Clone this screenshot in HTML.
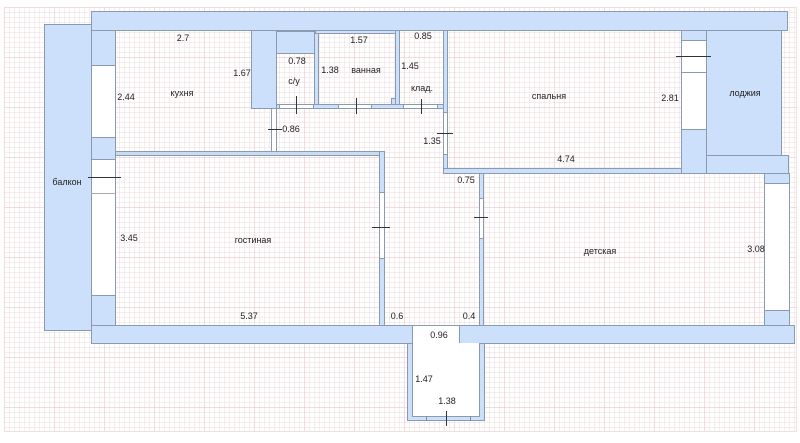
<!DOCTYPE html>
<html><head><meta charset="utf-8"><style>
html,body{margin:0;padding:0;background:#fff;}
#c{position:relative;width:800px;height:443px;overflow:hidden;font-family:"Liberation Sans",sans-serif;font-size:9px;color:#222;}
#g{position:absolute;left:4px;top:7px;width:792px;height:424px;
background-image:
linear-gradient(to right,rgba(240,190,190,.35) 1px,transparent 1px),
linear-gradient(to bottom,rgba(240,190,190,.35) 1px,transparent 1px),
linear-gradient(to right,rgba(235,215,220,.45) 1px,transparent 1px),
linear-gradient(to bottom,rgba(235,215,220,.45) 1px,transparent 1px);
background-size:50px 50px,50px 50px,5px 5px,5px 5px;
border-right:1px solid #f0e0e0;border-bottom:1px solid #f0dede;}
.b{position:absolute;background:#cce0fb;border:1px solid #8a9bb0;box-sizing:border-box;}
.w{position:absolute;background:#fff;border:1px solid #8a9bb0;box-sizing:border-box;}
.r{position:absolute;border:1px solid #8a9bb0;box-sizing:border-box;}
.t{position:absolute;transform:translate(-50%,-50%);white-space:nowrap;}
.h{position:absolute;height:1px;background:#333;}
.v{position:absolute;width:1px;background:#333;}
</style></head><body><div id="c">
<div id="g"></div>
<div class="b" style="left:91px;top:11px;width:697px;height:20px"></div>
<div class="b" style="left:44px;top:24px;width:48px;height:307px"></div>
<div class="b" style="left:91px;top:30px;width:25px;height:36px"></div>
<div class="w" style="left:91px;top:65px;width:25px;height:73px"></div>
<div class="b" style="left:91px;top:137px;width:25px;height:23px"></div>
<div class="w" style="left:91px;top:159px;width:25px;height:137px"></div>
<div class="h" style="left:91px;top:193px;width:24px;background:#aaa"></div>
<div class="b" style="left:91px;top:295px;width:25px;height:31px"></div>
<div class="b" style="left:91px;top:325px;width:704px;height:19px"></div>
<div class="w" style="left:412px;top:325px;width:48px;height:19px"></div>
<!-- kitchen -->
<div class="r" style="left:115px;top:30px;width:137px;height:122px;border-top:none;border-right:none"></div>
<div class="b" style="left:115px;top:151px;width:266px;height:5px;background:#c8dcf5"></div>
<div class="b" style="left:251px;top:30px;width:26px;height:79px"></div>
<div class="w" style="left:271px;top:108px;width:6px;height:44px"></div>
<!-- living -->
<div class="r" style="left:115px;top:155px;width:266px;height:171px"></div>
<div class="b" style="left:379px;top:151px;width:6px;height:42px"></div>
<div class="w" style="left:379px;top:192px;width:6px;height:67px"></div>
<div class="b" style="left:379px;top:258px;width:6px;height:68px"></div>
<!-- c/y, bath, storage -->
<div class="r" style="left:276px;top:30px;width:40px;height:76px"></div>
<div class="b" style="left:276px;top:31px;width:39px;height:23px"></div>
<div class="b" style="left:314px;top:30px;width:5px;height:78px"></div>
<div class="r" style="left:318px;top:33px;width:78px;height:72px"></div>
<div class="b" style="left:315px;top:30px;width:84px;height:4px"></div>
<div class="b" style="left:395px;top:30px;width:5px;height:78px"></div>
<div class="b" style="left:391px;top:98px;width:5px;height:8px"></div>
<div class="b" style="left:276px;top:104px;width:171px;height:5px"></div>
<div class="w" style="left:279px;top:104px;width:35px;height:5px"></div>
<div class="w" style="left:338px;top:104px;width:34px;height:5px"></div>
<div class="w" style="left:403px;top:104px;width:35px;height:5px"></div>
<!-- bedroom -->
<div class="b" style="left:443px;top:30px;width:5px;height:83px"></div>
<div class="w" style="left:443px;top:112px;width:5px;height:43px"></div>
<div class="b" style="left:443px;top:154px;width:5px;height:20px"></div>
<div class="r" style="left:447px;top:30px;width:235px;height:139px;border-top:none"></div>
<div class="b" style="left:443px;top:168px;width:264px;height:6px"></div>
<div class="b" style="left:681px;top:30px;width:26px;height:11px"></div>
<div class="w" style="left:681px;top:40px;width:26px;height:33px"></div>
<div class="w" style="left:681px;top:72px;width:26px;height:58px"></div>
<div class="b" style="left:681px;top:129px;width:26px;height:45px"></div>
<!-- loggia -->
<div class="b" style="left:706px;top:30px;width:76px;height:126px"></div>
<div class="b" style="left:706px;top:155px;width:83px;height:19px"></div>
<div class="b" style="left:764px;top:173px;width:26px;height:11px"></div>
<div class="w" style="left:764px;top:183px;width:26px;height:128px"></div>
<div class="b" style="left:764px;top:310px;width:26px;height:16px"></div>
<!-- kids -->
<div class="r" style="left:483px;top:173px;width:282px;height:153px"></div>
<div class="b" style="left:479px;top:173px;width:5px;height:26px"></div>
<div class="w" style="left:479px;top:198px;width:5px;height:41px"></div>
<div class="b" style="left:479px;top:238px;width:5px;height:88px"></div>
<!-- vestibule -->
<div class="b" style="left:407px;top:343px;width:78px;height:78px"></div>
<div class="w" style="left:412px;top:343px;width:68px;height:74px;border-top:none"></div>
<div class="v" style="left:426px;top:416px;height:5px;background:#888"></div>
<div class="v" style="left:470px;top:416px;height:5px;background:#888"></div>
<!-- door ticks -->
<div class="h" style="left:88px;top:177px;width:33px"></div>
<div class="v" style="left:296px;top:96px;height:18px"></div>
<div class="v" style="left:356px;top:98px;height:16px"></div>
<div class="v" style="left:421px;top:99px;height:15px"></div>
<div class="h" style="left:268px;top:129px;width:14px"></div>
<div class="h" style="left:437px;top:133px;width:16px"></div>
<div class="h" style="left:676px;top:56px;width:35px"></div>
<div class="h" style="left:372px;top:227px;width:18px"></div>
<div class="h" style="left:474px;top:217px;width:14px"></div>
<div class="v" style="left:446px;top:411px;height:15px"></div>
<!-- labels -->
<div class="t" style="left:183px;top:38px">2.7</div>
<div class="t" style="left:182px;top:93px">кухня</div>
<div class="t" style="left:126px;top:97px">2.44</div>
<div class="t" style="left:242px;top:73px">1.67</div>
<div class="t" style="left:297px;top:61px">0.78</div>
<div class="t" style="left:294px;top:81px">с/у</div>
<div class="t" style="left:359px;top:40px">1.57</div>
<div class="t" style="left:330px;top:70px">1.38</div>
<div class="t" style="left:366px;top:70px">ванная</div>
<div class="t" style="left:410px;top:66px">1.45</div>
<div class="t" style="left:423px;top:36px">0.85</div>
<div class="t" style="left:422px;top:88px">клад.</div>
<div class="t" style="left:291px;top:129px">0.86</div>
<div class="t" style="left:432px;top:141px">1.35</div>
<div class="t" style="left:549px;top:96px">спальня</div>
<div class="t" style="left:670px;top:98px">2.81</div>
<div class="t" style="left:566px;top:159px">4.74</div>
<div class="t" style="left:745px;top:93px">лоджия</div>
<div class="t" style="left:466px;top:180px">0.75</div>
<div class="t" style="left:67px;top:182px">балкон</div>
<div class="t" style="left:129px;top:238px">3.45</div>
<div class="t" style="left:253px;top:240px">гостиная</div>
<div class="t" style="left:249px;top:316px">5.37</div>
<div class="t" style="left:397px;top:316px">0.6</div>
<div class="t" style="left:469px;top:316px">0.4</div>
<div class="t" style="left:600px;top:251px">детская</div>
<div class="t" style="left:756px;top:249px">3.08</div>
<div class="t" style="left:439px;top:335px">0.96</div>
<div class="t" style="left:424px;top:379px">1.47</div>
<div class="t" style="left:447px;top:401px">1.38</div>
</div></body></html>
